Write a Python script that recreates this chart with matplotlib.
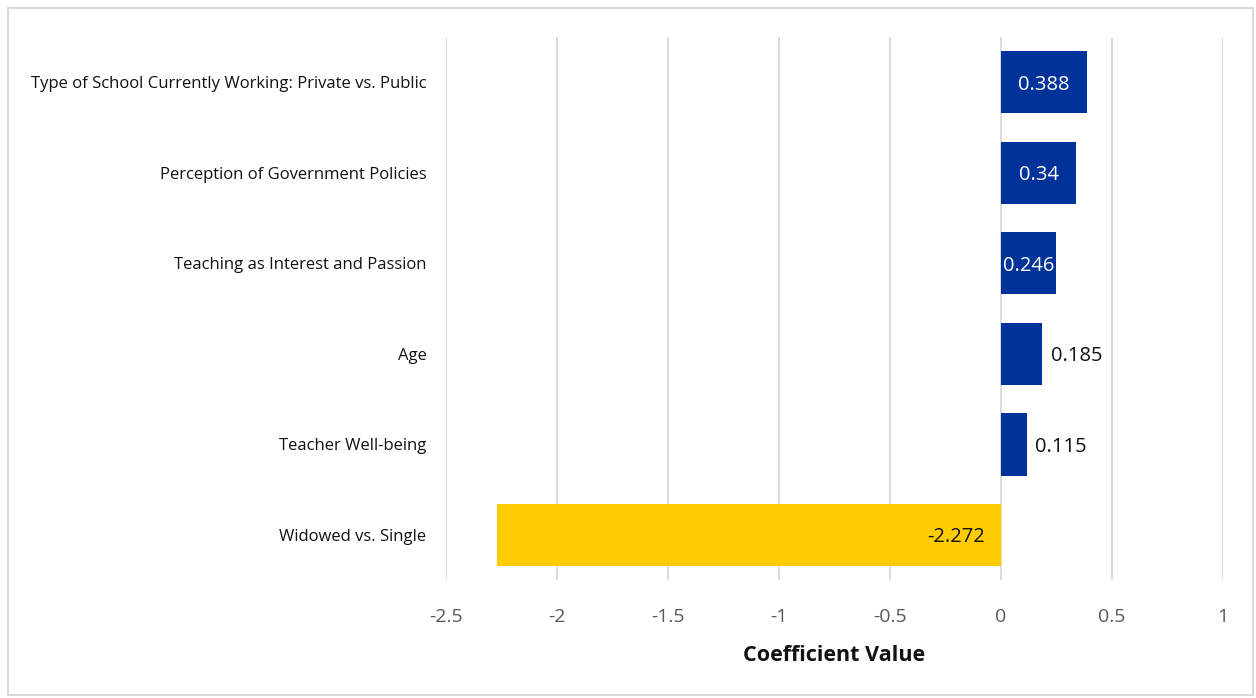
import matplotlib.pyplot as plt
from matplotlib.patches import Rectangle

# -------------------------
# Data
# -------------------------
factors = [
    "Widowed vs. Single",
    "Teacher Well-being",
    "Age",
    "Teaching as Interest and Passion",
    "Perception of Government Policies",
    "Type of School Currently Working: Private vs. Public",
]
coefficients = [-2.272, 0.115, 0.185, 0.246, 0.34, 0.388]
label_texts = ["-2.272", "0.115", "0.185", "0.246", "0.34", "0.388"]

xticks = [-2.5, -2, -1.5, -1, -0.5, 0, 0.5, 1]
xtick_labels = ["-2.5", "-2", "-1.5", "-1", "-0.5", "0", "0.5", "1"]

BLUE = "#00339a"
YELLOW = "#ffcc00"

plt.rcParams["font.family"] = ["Open Sans", "DejaVu Sans"]

# -------------------------
# Plot
# -------------------------
fig = plt.figure(figsize=(12.56, 6.98), dpi=100)
ax = fig.add_axes([0.3551, 0.169, 0.6186, 0.778])

# light frame around the whole chart
fig.patches.append(Rectangle((8 / 1256, 3 / 698), 1245 / 1256, 687 / 698,
                             transform=fig.transFigure, fill=False,
                             edgecolor="#d9d9d9", linewidth=1.5))

y = range(len(factors))
colors = [YELLOW if v < 0 else BLUE for v in coefficients]
ax.barh(y, coefficients, height=0.69, color=colors, zorder=3)

for i, (v, txt) in enumerate(zip(coefficients, label_texts)):
    if v < 0:
        ax.text(-0.07, i, txt, ha="right", va="center_baseline",
                fontsize=14.5, color="#111111", zorder=4)
    elif v > 0.2:
        ax.text(v / 2, i, txt, ha="center", va="center_baseline",
                fontsize=14.5, color="white", zorder=4)
    else:
        ax.text(v + 0.04, i, txt, ha="left", va="center_baseline",
                fontsize=14.5, color="#111111", zorder=4)

ax.set_xlim(-2.5, 1)
ax.set_ylim(-0.5, len(factors) - 0.5)
ax.set_xticks(xticks)
ax.set_xticklabels(xtick_labels, fontsize=14, color="#595959")
ax.set_yticks(list(y))
ax.set_yticklabels(factors, fontsize=12, color="#111111")
ax.tick_params(axis="x", length=0, pad=20)
ax.tick_params(axis="y", length=0, pad=14)

ax.grid(axis="x", color="#d9d9d9", linewidth=1.3, zorder=0)
for s in ax.spines.values():
    s.set_visible(False)

ax.set_xlabel("Coefficient Value", fontsize=15.5, fontweight="bold",
              color="#111111", labelpad=14)

fig.savefig("out.png", dpi=100)
